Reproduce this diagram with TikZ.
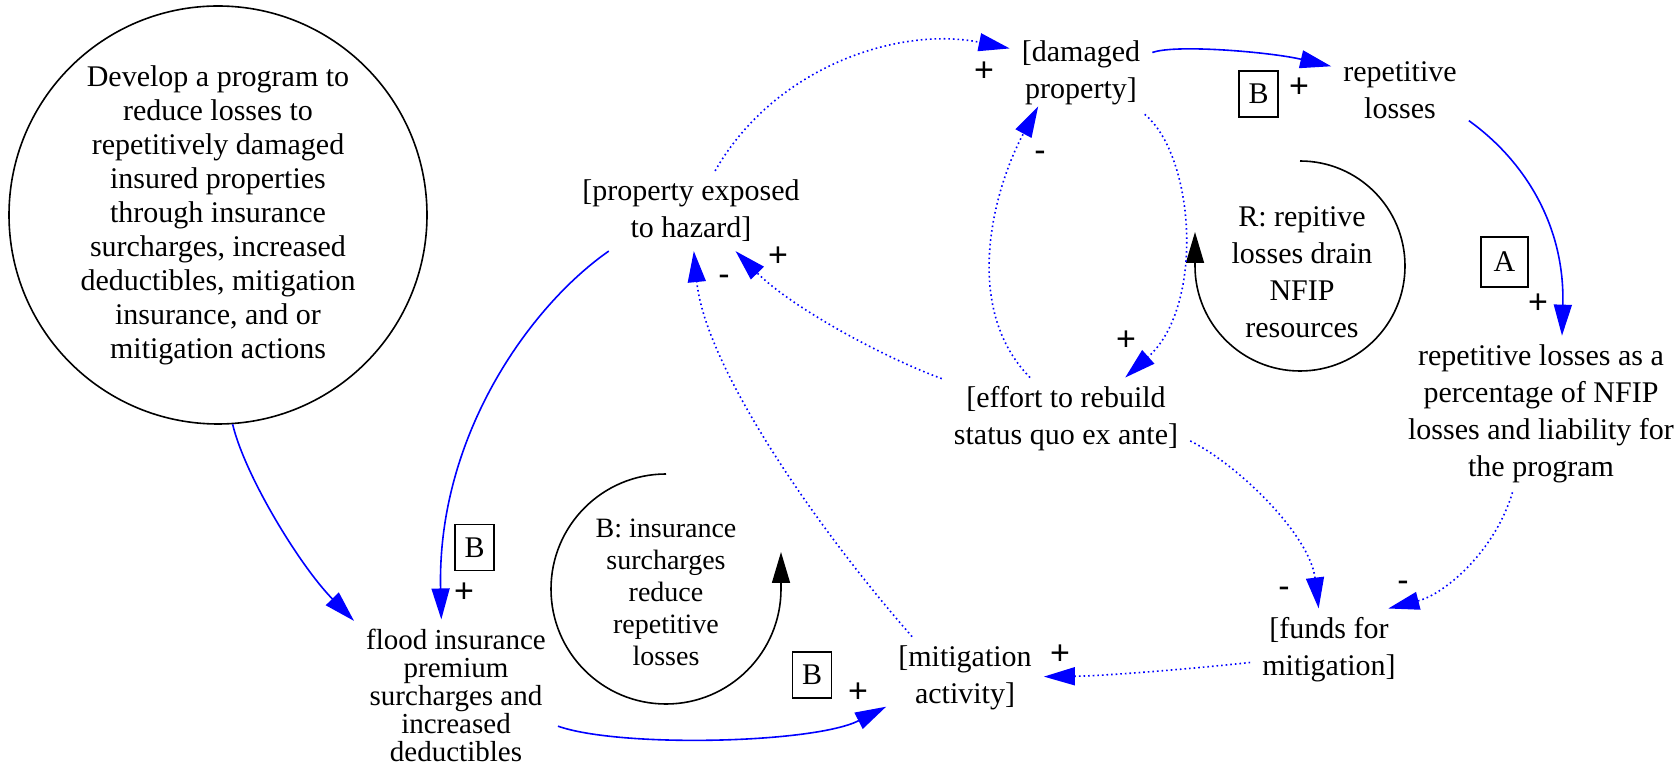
\documentclass[tikz,border=0pt]{standalone}
\usepackage{fontspec}
\setmainfont{Liberation Serif}
\newfontfamily\signfont{Liberation Sans}
\usetikzlibrary{arrows.meta}
\definecolor{linkblue}{RGB}{0,0,255}

\begin{document}
\begin{tikzpicture}[x=1pt, y=1pt, >={Triangle[length=31pt,width=18pt]},
  var/.style={align=center, inner xsep=12pt, inner ysep=9pt,
              font=\fontsize{30}{37}\selectfont},
  loopbox/.style={draw, line width=1.2pt, minimum width=39pt, minimum height=46pt,
                  inner sep=0pt, font=\fontsize{30}{36}\selectfont},
  sign/.style={inner sep=0pt, font=\signfont\fontsize{34}{34}\selectfont},
  solidlink/.style={->, draw=linkblue, line width=1.6pt},
  dotlink/.style={->, draw=linkblue, line width=1.6pt, dash pattern=on 1.6pt off 3pt},
  loopline/.style={->, line width=1.6pt}]
\useasboundingbox (0,0) rectangle (1678,766);

% variables
\node[draw, circle, line width=1.6pt, minimum size=418pt, inner sep=0pt, align=center,
      font=\fontsize{30}{34}\selectfont] (goal) at (218,551)
      {Develop a program to\\reduce losses to\\repetitively damaged\\insured properties\\through insurance\\surcharges, increased\\deductibles, mitigation\\insurance, and or\\mitigation actions};
\node[var] (prop) at (691,555) {[property exposed\\to hazard]};
\node[var] (dmg) at (1081,693) {[damaged\\property]};
\node[var] (rep) at (1400,676) {repetitive\\losses};
\node[var] (pct) at (1541,352) {repetitive losses as a\\percentage of NFIP\\losses and liability for\\the program};
\node[var] (effort) at (1066,347) {[effort to rebuild\\status quo ex ante]};
\node[var] (funds) at (1329,116) {[funds for\\mitigation]};
\node[var] (mitig) at (965,88) {[mitigation\\activity]};
\node[var, font=\fontsize{29}{28}\selectfont] (flood) at (456,71)
      {flood insurance\\premium\\surcharges and\\increased\\deductibles};

% loop labels
\node[var, inner sep=0pt] (rloop) at (1302,494) {R: repitive\\losses drain\\NFIP\\resources};
\node[var, inner sep=0pt, font=\fontsize{28}{32}\selectfont] (bloop) at (666,174)
      {B: insurance\\surcharges\\reduce\\repetitive\\losses};
\draw[loopline] (1300,605) arc[start angle=90, end angle=-180, radius=105] -- (1195,534);
\draw[loopline] (666,292) arc[start angle=90, end angle=360, radius=115] -- (781,214);

\node[loopbox] (bdmg) at (1258.5,672) {B};
\node[loopbox, minimum width=47pt, minimum height=50pt] (apct) at (1504.5,504) {A};
\node[loopbox] (bflood) at (474.5,218.5) {B};
\node[loopbox] (bmitig) at (812,91) {B};

% links
\draw[solidlink] (goal.-86) .. controls (245,290) and (300,200) .. (flood.144);
\draw[solidlink] (prop.206.6) .. controls (530,460) and (437,330) .. (flood.101);
\draw[dotlink] (prop.59.5) .. controls (775,700) and (900,740) .. (dmg.161.6);
\draw[solidlink] (dmg.16) .. controls (1175,722) and (1270,714) .. (rep.161);
\draw[solidlink] (rep.-24) .. controls (1525,605) and (1565,540) .. (pct.75.5);
\draw[dotlink] (dmg.-33.4) .. controls (1195,610) and (1205,460) .. (effort.35.4);
\draw[dotlink] (effort.131.6) .. controls (960,460) and (995,580) .. ([yshift=8pt]dmg.224);
\draw[dotlink] (effort.162) .. controls (880,410) and (790,460) .. (prop.-42.5);
\draw[dotlink] (mitig.142) .. controls (815,240) and (705,400) .. (prop.-86);
\draw[solidlink] (flood.-17.5) .. controls (620,18) and (814,22.5) .. (mitig.200.8);
\draw[dotlink] (funds.189) .. controls (1180,96) and (1100,90) .. (mitig.1.7);
\draw[dotlink] (effort.-10.8) .. controls (1240,300) and (1310,230) .. (funds.104);
\draw[dotlink] (pct.250.7) .. controls (1495,215) and (1445,172) .. (funds.35);

% polarities
\node[sign] (sdmgrep) at (1299,678) {+};
\node[sign] (sreppct) at (1538,462) {+};
\node[sign] (spropdmg) at (984,694) {+};
\node[sign] (seffdmg) at (1040,610) {-};
\node[sign] (sdmgeff) at (1126,425) {+};
\node[sign] (seffprop) at (778,509) {+};
\node[sign] (smitprop) at (724,486) {-};
\node[sign] (spropflood) at (464,173) {+};
\node[sign] (sfloodmit) at (858,73) {+};
\node[sign] (sfundsmit) at (1060,111) {+};
\node[sign] (sefffunds) at (1284,174) {-};
\node[sign] (spctfunds) at (1403,180) {-};
\end{tikzpicture}
\end{document}
